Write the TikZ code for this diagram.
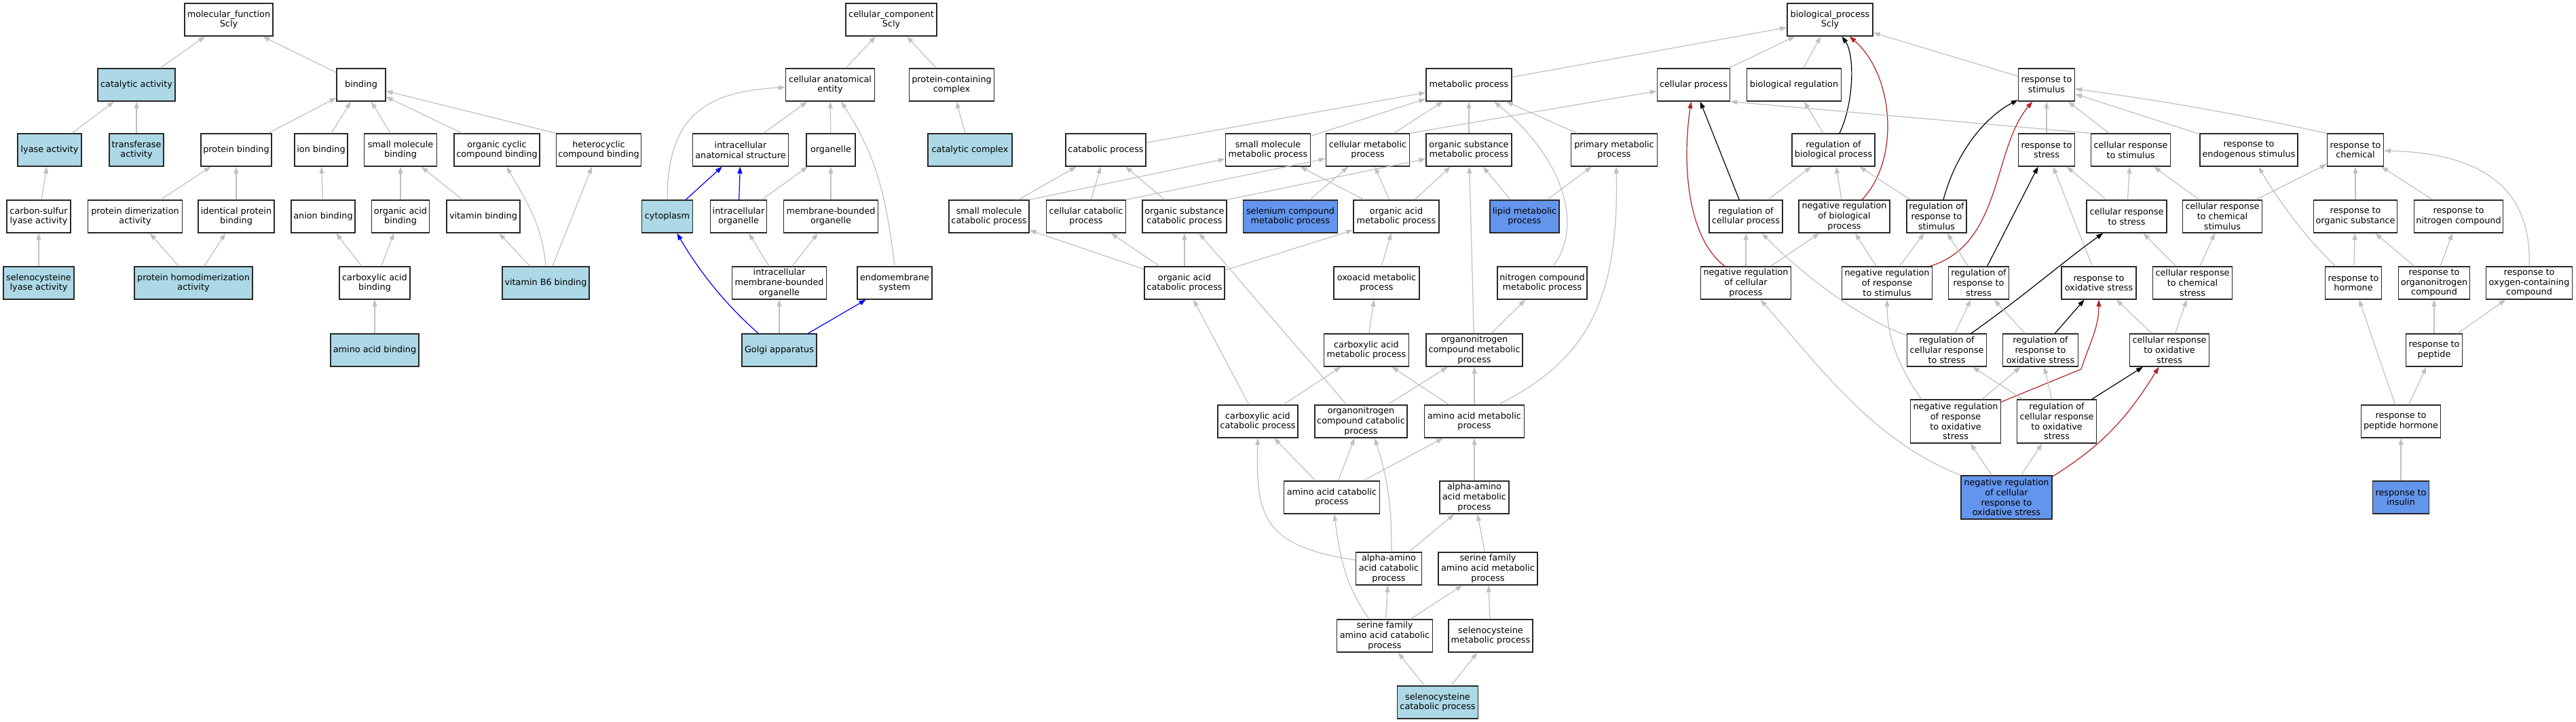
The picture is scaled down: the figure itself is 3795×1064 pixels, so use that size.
\documentclass[tikz,border=0pt]{standalone}
\usepackage{fontspec}
\setmainfont{DejaVu Sans}
\usetikzlibrary{arrows.meta,calc}
\definecolor{lbC}{HTML}{ADD8E6}
\definecolor{cbC}{HTML}{6495ED}
\definecolor{egC}{RGB}{192,192,192}
\definecolor{rdC}{HTML}{B22222}
\definecolor{bdC}{RGB}{40,40,40}
\begin{document}
\begin{tikzpicture}[x=1pt,y=1pt,
  gobox/.style={draw=bdC, line width=1.4pt, fill=white, minimum height=48pt, inner xsep=1pt, inner ysep=1pt, align=center, font=\fontsize{12.8}{14.8}\selectfont},
  lbox/.style={gobox, fill=lbC},
  cbox/.style={gobox, fill=cbC},
  tall/.style={minimum height=64pt},
  ge/.style={draw=egC, line width=1.2pt, -{Triangle[length=10pt,width=7pt]}},
  bke/.style={ge, draw=black},
  rde/.style={ge, draw=rdC},
  ble/.style={ge, draw=blue},
]
\useasboundingbox (0,0) rectangle (3795,-1064);
\fill[white] (0,0) rectangle (3795,-1064);

% ---------- molecular function ----------
\node[gobox, minimum width=130pt] (mf) at (337,-29) {molecular\_function\\Scly};
\node[lbox, minimum width=114pt] (cat) at (201,-125) {catalytic activity};
\node[gobox, minimum width=72pt] (bind) at (532,-125) {binding};
\node[lbox, minimum width=94pt] (lyase) at (73,-221) {lyase activity};
\node[lbox, minimum width=80pt] (transf) at (201,-221) {transferase\\activity};
\node[gobox, minimum width=104pt] (protb) at (348,-221) {protein binding};
\node[gobox, minimum width=78pt] (ionb) at (473,-221) {ion binding};
\node[gobox, minimum width=107pt] (smb) at (590,-221) {small molecule\\binding};
\node[gobox, minimum width=126pt] (ocb) at (732,-221) {organic cyclic\\compound binding};
\node[gobox, minimum width=125pt] (hcb) at (882,-221) {heterocyclic\\compound binding};
\node[gobox, minimum width=94pt] (csl) at (57,-319) {carbon-sulfur\\lyase activity};
\node[gobox, minimum width=139pt] (pda) at (199,-319) {protein dimerization\\activity};
\node[gobox, minimum width=112pt] (ipb) at (348,-319) {identical protein\\binding};
\node[gobox, minimum width=94pt] (anb) at (476,-319) {anion binding};
\node[gobox, minimum width=85pt] (oab) at (590,-319) {organic acid\\binding};
\node[gobox, minimum width=108pt] (vitb) at (712,-319) {vitamin binding};
\node[lbox, minimum width=104pt] (scl) at (57,-417) {selenocysteine\\lyase activity};
\node[lbox, minimum width=174pt] (phda) at (285,-417) {protein homodimerization\\activity};
\node[gobox, minimum width=104pt] (cab) at (552,-417) {carboxylic acid\\binding};
\node[lbox, minimum width=128pt] (vb6) at (804,-417) {vitamin B6 binding};
\node[lbox, minimum width=130pt] (aab) at (552,-516) {amino acid binding};

% ---------- cellular component ----------
\node[gobox, minimum width=134pt] (cc) at (1313,-29) {cellular\_component\\Scly};
\node[gobox, minimum width=131pt] (cae) at (1223,-125) {cellular anatomical\\entity};
\node[gobox, minimum width=125pt] (pcc) at (1402,-125) {protein-containing\\complex};
\node[gobox, minimum width=141pt] (ias) at (1091,-221) {intracellular\\anatomical structure};
\node[gobox, minimum width=72pt] (org) at (1224,-221) {organelle};
\node[lbox, minimum width=124pt] (catc) at (1429,-221) {catalytic complex};
\node[lbox, minimum width=75pt] (cyto) at (983,-319) {cytoplasm};
\node[gobox, minimum width=83pt] (io) at (1088,-319) {intracellular\\organelle};
\node[gobox, minimum width=139pt] (mbo) at (1224,-319) {membrane-bounded\\organelle};
\node[gobox, minimum width=139pt] (imbo) at (1148,-417) {intracellular\\membrane-bounded\\organelle};
\node[gobox, minimum width=110pt] (ems) at (1318,-417) {endomembrane\\system};
\node[lbox, minimum width=110pt] (golgi) at (1148,-516) {Golgi apparatus};

% ---------- biological process ----------
\node[gobox, minimum width=126pt] (bp) at (2696,-29) {biological\_process\\Scly};
\node[gobox, minimum width=126pt] (mp) at (2164,-125) {metabolic process};
\node[gobox, minimum width=107pt] (cp) at (2495,-125) {cellular process};
\node[gobox, minimum width=139pt] (breg) at (2643,-125) {biological regulation};
\node[gobox, minimum width=83pt] (rts) at (3015,-125) {response to\\stimulus};
\node[gobox, minimum width=118pt] (catp) at (1629,-221) {catabolic process};
\node[gobox, minimum width=125pt] (smmp) at (1868,-221) {small molecule\\metabolic process};
\node[gobox, minimum width=123pt] (cmp) at (2015,-221) {cellular metabolic\\process};
\node[gobox, minimum width=126pt] (osmp) at (2164,-221) {organic substance\\metabolic process};
\node[gobox, minimum width=127pt] (pmp) at (2378,-221) {primary metabolic\\process};
\node[gobox, minimum width=122pt] (rbp) at (2701,-221) {regulation of\\biological process};
\node[gobox, minimum width=83pt] (rtstr) at (3015,-221) {response to\\stress};
\node[gobox, minimum width=117pt] (crts) at (3139,-221) {cellular response\\to stimulus};
\node[gobox, minimum width=144pt] (rtes) at (3313,-221) {response to\\endogenous stimulus};
\node[gobox, minimum width=83pt] (rtc) at (3470,-221) {response to\\chemical};
\node[gobox, minimum width=118pt] (smcp) at (1457,-319) {small molecule\\catabolic process};
\node[gobox, minimum width=117pt] (ccp) at (1600,-319) {cellular catabolic\\process};
\node[gobox, minimum width=124pt] (oscp) at (1745,-319) {organic substance\\catabolic process};
\node[cbox, minimum width=139pt] (secmp) at (1901,-319) {selenium compound\\metabolic process};
\node[gobox, minimum width=126pt] (oamp) at (2057,-319) {organic acid\\metabolic process};
\node[cbox, minimum width=102pt] (lmp) at (2246,-319) {lipid metabolic\\process};
\node[gobox, minimum width=108pt] (rcp) at (2572,-319) {regulation of\\cellular process};
\node[gobox, minimum width=134pt] (nrbp) at (2717,-319) {negative regulation\\of biological\\process};
\node[gobox, minimum width=88pt] (rrts) at (2853,-319) {regulation of\\response to\\stimulus};
\node[gobox, minimum width=118pt] (crstr) at (3133,-319) {cellular response\\to stress};
\node[gobox, minimum width=117pt] (crcs) at (3274,-319) {cellular response\\to chemical\\stimulus};
\node[gobox, minimum width=123pt] (rtos) at (3470,-319) {response to\\organic substance};
\node[gobox, minimum width=131pt] (rtnc) at (3622,-319) {response to\\nitrogen compound};
\node[gobox, minimum width=118pt] (oacp) at (1745,-417) {organic acid\\catabolic process};
\node[gobox, minimum width=126pt] (oxmp) at (2028,-417) {oxoacid metabolic\\process};
\node[gobox, minimum width=132pt] (ncmp) at (2272,-417) {nitrogen compound\\metabolic process};
\node[gobox, minimum width=133pt] (nrcp) at (2572,-417) {negative regulation\\of cellular\\process};
\node[gobox, minimum width=133pt] (nrrts) at (2780,-417) {negative regulation\\of response\\to stimulus};
\node[gobox, minimum width=89pt] (rrtstr) at (2915,-417) {regulation of\\response to\\stress};
\node[gobox, minimum width=110pt] (rtox) at (3092,-417) {response to\\oxidative stress};
\node[gobox, minimum width=117pt] (crchs) at (3230,-417) {cellular response\\to chemical\\stress};
\node[gobox, minimum width=83pt] (rth) at (3467,-417) {response to\\hormone};
\node[gobox, minimum width=105pt] (rtonc) at (3586,-417) {response to\\organonitrogen\\compound};
\node[gobox, minimum width=127pt] (rtocc) at (3726,-417) {response to\\oxygen-containing\\compound};
\node[gobox, minimum width=125pt] (camp) at (2013,-516) {carboxylic acid\\metabolic process};
\node[gobox, minimum width=142pt] (oncmp) at (2172,-516) {organonitrogen\\compound metabolic\\process};
\node[gobox, minimum width=117pt] (rcrs) at (2868,-516) {regulation of\\cellular response\\to stress};
\node[gobox, minimum width=111pt] (rrox) at (3006,-516) {regulation of\\response to\\oxidative stress};
\node[gobox, minimum width=117pt] (crox) at (3196,-516) {cellular response\\to oxidative\\stress};
\node[gobox, minimum width=83pt] (rtp) at (3586,-516) {response to\\peptide};
\node[gobox, minimum width=118pt] (cacp) at (1853,-621) {carboxylic acid\\catabolic process};
\node[gobox, minimum width=136pt] (onccp) at (2005,-621) {organonitrogen\\compound catabolic\\process};
\node[gobox, minimum width=147pt] (aamp) at (2172,-621) {amino acid metabolic\\process};
\node[gobox, tall, minimum width=133pt] (nrrox) at (2881,-621) {negative regulation\\of response\\to oxidative\\stress};
\node[gobox, tall, minimum width=117pt] (rcrox) at (3030,-621) {regulation of\\cellular response\\to oxidative\\stress};
\node[gobox, minimum width=117pt] (rtph) at (3537,-621) {response to\\peptide hormone};
\node[gobox, minimum width=141pt] (aacp) at (1962,-733) {amino acid catabolic\\process};
\node[gobox, minimum width=102pt] (aaamp) at (2172,-733) {alpha-amino\\acid metabolic\\process};
\node[cbox, tall, minimum width=134pt] (nrcrox) at (2956,-733) {negative regulation\\of cellular\\response to\\oxidative stress};
\node[cbox, minimum width=83pt] (rti) at (3537,-733) {response to\\insulin};
\node[gobox, minimum width=97pt] (aaacp) at (2046,-838) {alpha-amino\\acid catabolic\\process};
\node[gobox, minimum width=146pt] (sfamp) at (2192,-838) {serine family\\amino acid metabolic\\process};
\node[gobox, minimum width=141pt] (sfacp) at (2040,-937) {serine family\\amino acid catabolic\\process};
\node[gobox, minimum width=124pt] (secmp2) at (2196,-937) {selenocysteine\\metabolic process};
\node[lbox, minimum width=119pt] (seccp) at (2118,-1035) {selenocysteine\\catabolic process};

% ---------- MF edges ----------
\draw[ge] (cat) -- (mf);
\draw[ge] (bind) -- (mf);
\draw[ge] (lyase) -- (cat);
\draw[ge] (transf) -- (cat);
\draw[ge] (csl) -- (lyase);
\draw[ge] (scl) -- (csl);
\draw[ge] (protb) -- (bind);
\draw[ge] (ionb) -- (bind);
\draw[ge] (smb) -- (bind);
\draw[ge] (ocb) -- (bind);
\draw[ge] (hcb.north west) -- (bind);
\draw[ge] (pda) -- (protb);
\draw[ge] (ipb) -- (protb);
\draw[ge] (phda) -- (pda);
\draw[ge] (phda) -- (ipb);
\draw[ge] (anb) -- (ionb);
\draw[ge] (oab) -- (smb);
\draw[ge] (vitb) -- (smb);
\draw[ge] (cab) -- (anb);
\draw[ge] (cab) -- (oab);
\draw[ge] (aab) -- (cab);
\draw[ge] (vb6) -- (vitb);
\draw[ge] (vb6.north) to[out=95,in=-60] (ocb);
\draw[ge] (vb6) -- (hcb);

% ---------- CC edges ----------
\draw[ge] (cae) -- (cc);
\draw[ge] (pcc) -- (cc);
\draw[ge] (catc) -- (pcc);
\draw[ge] (ias) -- (cae);
\draw[ge] (org) -- (cae);
\draw[ge] (cyto.north) .. controls (983,-170) and (1040,-135) .. (cae);
\draw[ge] (ems.north) to[out=97,in=-57] (cae);
\draw[ble] (cyto) -- (ias);
\draw[ble] (io) -- (ias);
\draw[ge] (io) -- (org);
\draw[ge] (mbo) -- (org);
\draw[ge] (imbo) -- (io);
\draw[ge] (imbo) -- (mbo);
\draw[ble] ($(golgi.north west)+(25,0)$) .. controls (1070,-450) and (1030,-400) .. (cyto);
\draw[ge] (golgi) -- (imbo);
\draw[ble] (golgi) -- (ems);

% ---------- BP edges ----------
\draw[ge] (mp) -- (bp);
\draw[ge] (cp) -- (bp);
\draw[ge] (breg) -- (bp);
\draw[bke] ($(rbp.north)+(9,0)$) .. controls (2732,-150) and (2732,-80) .. (bp);
\draw[rde] ($(nrbp.north)+(26,0)$) .. controls (2800,-235) and (2790,-110) .. (bp);
\draw[ge] (rts) -- (bp);
\draw[ge] (catp) -- (mp);
\draw[ge] (smmp) -- (mp);
\draw[ge] (cmp) -- (mp);
\draw[ge] (osmp) -- (mp);
\draw[ge] (pmp) -- (mp);
\draw[ge] ($(ncmp.north)+(16,0)$) .. controls (2335,-330) and (2300,-230) .. ($(mp.south)+(37,0)$);
\draw[ge] (cmp.north east) -- (cp);
\draw[bke] (rcp) -- (cp);
\draw[rde] ($(nrcp.north)+(-31,0)$) .. controls (2485,-350) and (2478,-240) .. (cp);
\draw[ge] (crts.north west) -- (cp.south east);
\draw[ge] (rbp) -- (breg);
\draw[ge] (rtstr) -- (rts);
\draw[ge] (crts) -- (rts);
\draw[bke] ($(rrts.north)+(10,0)$) .. controls (2880,-230) and (2920,-175) .. (rts);
\draw[rde] ($(nrrts.north east)+(-4,0)$) .. controls (2950,-360) and (2935,-220) .. (rts);
\draw[ge] (rtes) -- (rts);
\draw[ge] (rtc.north west) to[out=168,in=-8] (rts);
\draw[ge] (smcp) -- (catp);
\draw[ge] (ccp) -- (catp);
\draw[ge] (oscp) -- (catp);
\draw[ge] (smcp.north east) -- (smmp);
\draw[ge] (oamp) -- (smmp);
\draw[ge] (ccp.north east) -- (cmp);
\draw[ge] (secmp) -- (cmp);
\draw[ge] (oamp) -- (cmp);
\draw[ge] (oscp.north east) -- (osmp);
\draw[ge] (oamp) -- (osmp);
\draw[ge] (lmp) -- (osmp);
\draw[ge] (oncmp) -- (osmp);
\draw[ge] (lmp) -- (pmp);
\draw[ge] ($(aamp.north)+(35,0)$) .. controls (2340,-530) and (2385,-440) .. ($(pmp.south)+(3,0)$);
\draw[ge] (rcp) -- (rbp);
\draw[ge] (nrbp) -- (rbp);
\draw[ge] (rrts) -- (rbp);
\draw[ge] (rtox) -- (rtstr);
\draw[ge] (crstr) -- (rtstr);
\draw[bke] (rrtstr) -- (rtstr);
\draw[ge] (crstr) -- (crts);
\draw[ge] (crcs) -- (crts);
\draw[ge] (crcs) -- (rtc);
\draw[ge] (rtos) -- (rtc);
\draw[ge] (rtnc) -- (rtc);
\draw[ge] (rtocc.north) .. controls (3730,-280) and (3660,-226) .. (rtc);
\draw[ge] ($(rth.north west)+(16,0)$) .. controls (3395,-350) and (3350,-285) .. (rtes);
\draw[ge] (oacp) -- (smcp);
\draw[ge] (oacp) -- (ccp);
\draw[ge] (oacp) -- (oscp);
\draw[ge] (onccp) -- (oscp);
\draw[ge] (oacp) -- (oamp);
\draw[ge] (oxmp) -- (oamp);
\draw[ge] (nrcp) -- (rcp);
\draw[ge] ($(rcrs.north west)+(0,-3)$) .. controls (2740,-470) and (2650,-400) .. (rcp);
\draw[ge] (nrcp) -- (nrbp);
\draw[ge] (nrrts) -- (nrbp);
\draw[ge] (nrrts) -- (rrts);
\draw[ge] (rrtstr) -- (rrts);
\draw[ge] (crchs) -- (crstr);
\draw[bke] ($(rcrs.north)+(36,0)$) .. controls (2990,-430) and (3040,-385) .. (crstr);
\draw[ge] (crchs) -- (crcs);
\draw[ge] (rth) -- (rtos);
\draw[ge] (rtonc) -- (rtos);
\draw[ge] (rtonc) -- (rtnc);
\draw[ge] (cacp) -- (oacp);
\draw[ge] (camp) -- (oxmp);
\draw[ge] (oncmp) -- (ncmp);
\draw[ge] (nrcrox.north west) .. controls (2760,-650) and (2680,-540) .. (nrcp);
\draw[ge] ($(nrrox.north west)+(17,0)$) .. controls (2800,-545) and (2780,-500) .. (nrrts);
\draw[ge] (rcrs) -- (rrtstr);
\draw[ge] (rrox) -- (rrtstr);
\draw[bke] (rrox) -- (rtox);
\draw[ge] (crox) -- (rtox);
\draw[rde] ($(nrrox.north east)+(0,-4)$) -- (3066,-544) to[out=72,in=-90] (rtox);
\draw[ge] (crox) -- (crchs);
\draw[ge] (rtp) -- (rtonc);
\draw[ge] (rtp) -- (rtocc);
\draw[ge] (cacp) -- (camp);
\draw[ge] (aamp) -- (camp);
\draw[ge] (onccp) -- (oncmp);
\draw[ge] (aamp) -- (oncmp);
\draw[ge] (rcrox) -- (rcrs);
\draw[ge] (nrrox) -- (rrox);
\draw[ge] (rcrox) -- (rrox);
\draw[bke] (rcrox) -- (crox);
\draw[rde] ($(nrcrox.north east)+(0,-2)$) to[out=32,in=-122] (crox);
\draw[ge] (rtph) -- (rtp);
\draw[ge] (rtph) -- (rth);
\draw[ge] (aacp) -- (cacp);
\draw[ge] ($(aaacp.north west)+(0,-12)$) .. controls (1860,-805) and (1850,-760) .. (cacp.south);
\draw[ge] (aacp) -- (onccp);
\draw[ge] ($(aaacp.north)+(4,0)$) to[out=90,in=-72] ($(onccp.south)+(20,0)$);
\draw[ge] (aacp) -- (aamp);
\draw[ge] (aaamp) -- (aamp);
\draw[ge] (nrcrox) -- (nrrox);
\draw[ge] (nrcrox) -- (rcrox);
\draw[ge] (rti) -- (rtph);
\draw[ge] ($(sfacp.north)+(-23,0)$) to[out=125,in=-82] (aacp);
\draw[ge] (aaacp) -- (aaamp);
\draw[ge] (sfamp) -- (aaamp);
\draw[ge] (sfacp) -- (aaacp);
\draw[ge] (sfacp) -- (sfamp);
\draw[ge] (secmp2) -- (sfamp);
\draw[ge] (seccp) -- (sfacp);
\draw[ge] (seccp) -- (secmp2);
\end{tikzpicture}
\end{document}
